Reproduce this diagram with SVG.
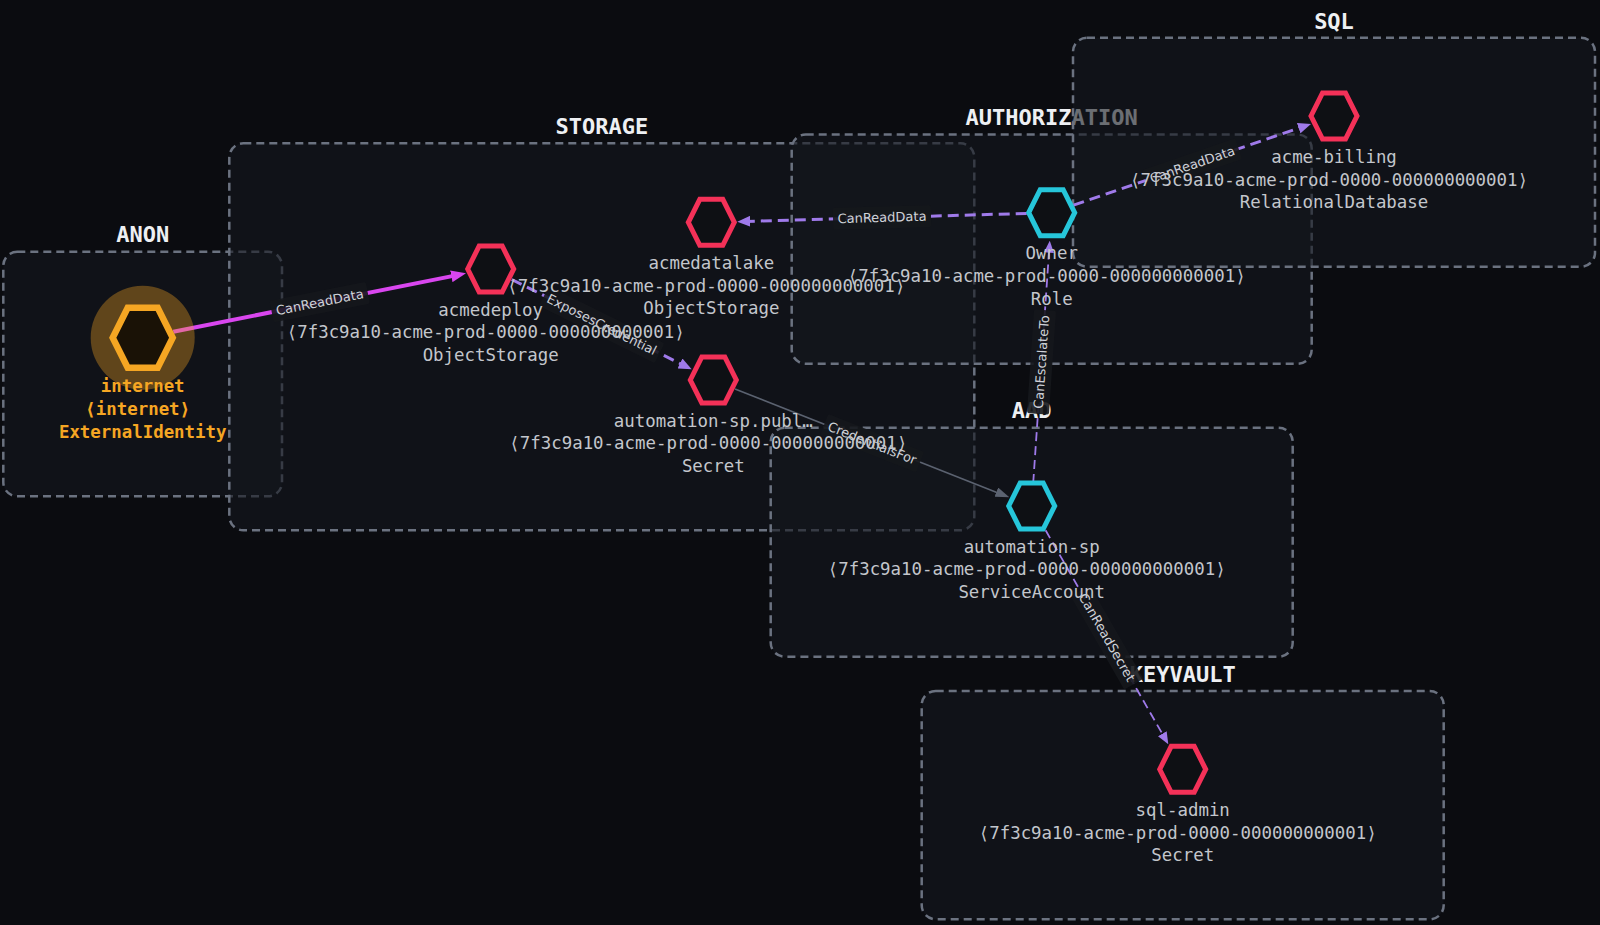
<svg xmlns="http://www.w3.org/2000/svg" width="1600" height="925" viewBox="0 0 1600 925">
<style>
.grp rect{fill:#14171e;fill-opacity:0.6;stroke:#6b7280;stroke-width:2.5;stroke-dasharray:8 5}
.gt{font-family:"DejaVu Sans Mono","Liberation Mono",monospace;font-weight:bold;font-size:22px;fill:#eef0f3;text-anchor:middle}
.hex{fill:#0e1014;stroke-width:5;stroke-linejoin:miter}
.red{stroke:#f43158}
.cyan{stroke:#26c6da}
.nl{font-family:"DejaVu Sans Mono","Liberation Mono",monospace;font-size:17.4px;fill:#c3c6cc;text-anchor:middle}
.nl.hi{fill:#f5a623;font-weight:bold}
.e{fill:none}
.mag{stroke:#d946ef;stroke-width:4}
.pur{stroke:#9f7aea;stroke-width:3;stroke-dasharray:11 6}
.purt{stroke:#9f7aea;stroke-width:1.8;stroke-dasharray:9 5}
.gry{stroke:#5b6270;stroke-width:1.6}
.lb rect{fill:#15171c;fill-opacity:0.9}
.lb text{font-family:"DejaVu Sans","Liberation Sans",sans-serif;font-size:13px;fill:#cfd2d8;text-anchor:middle;dominant-baseline:central}
</style>
<defs>
<marker id="am" markerUnits="userSpaceOnUse" viewBox="0 0 15 12" markerWidth="15" markerHeight="12" refX="6" refY="6" orient="auto"><path d="M0,0 L15,6 L0,12 z" fill="#d946ef"/></marker>
<marker id="ap" markerUnits="userSpaceOnUse" viewBox="0 0 13 11" markerWidth="13" markerHeight="11" refX="5" refY="5.5" orient="auto"><path d="M0,0 L13,5.5 L0,11 z" fill="#9f7aea"/></marker>
<marker id="apt" markerUnits="userSpaceOnUse" viewBox="0 0 12 10" markerWidth="12" markerHeight="10" refX="5" refY="5" orient="auto"><path d="M0,0 L12,5 L0,10 z" fill="#9f7aea"/></marker>
<marker id="ag" markerUnits="userSpaceOnUse" viewBox="0 0 14 10" markerWidth="14" markerHeight="10" refX="6" refY="5" orient="auto"><path d="M0,0 L14,5 L0,10 z" fill="#5b6270"/></marker>
</defs>
<rect x="0" y="0" width="1600" height="925" fill="#0b0c10"/>

<g id="groups">
<g id="group-anon" class="grp"><rect x="3.3" y="251.7" width="278.7" height="244.6" rx="14"/><text class="gt" x="142.7" y="242">ANON</text></g>
<g id="group-storage" class="grp"><rect x="229.3" y="143.3" width="745" height="387" rx="14"/><text class="gt" x="601.8" y="134">STORAGE</text></g>
<g id="group-authorization" class="grp"><rect x="791.7" y="134.5" width="520" height="229.3" rx="14"/><text class="gt" x="1051.7" y="125">AUTHORIZATION</text></g>
<g id="group-sql" class="grp"><rect x="1073" y="37.7" width="522" height="229" rx="14"/><text class="gt" x="1334" y="28.5">SQL</text></g>
<g id="group-aad" class="grp"><rect x="770.7" y="427.7" width="522" height="229" rx="14"/><text class="gt" x="1031.7" y="418.4">AAD</text></g>
<g id="group-keyvault" class="grp"><rect x="921.7" y="691" width="522" height="228.3" rx="14"/><text class="gt" x="1182.7" y="681.7">KEYVAULT</text></g>
</g>

<g id="connectors">
<path class="e mag" d="M173.3,331.7 L457.2,275.1" marker-end="url(#am)"/>
<path class="e pur" d="M511.7,279.5 L684.5,365.7" marker-end="url(#ap)"/>
<path class="e gry" d="M735,389 L1001.9,494.4" marker-end="url(#ag)"/>
<path class="e purt" d="M1033.2,483 L1049.3,247.7" marker-end="url(#apt)"/>
<path class="e pur" d="M1026.7,213.4 L745.3,221.4" marker-end="url(#ap)"/>
<path class="e pur" d="M1073.5,205.2 L1303.4,126.5" marker-end="url(#ap)"/>
<path class="e purt" d="M1045.6,530.3 L1164.8,738.1" marker-end="url(#apt)"/>
<g class="lb" transform="translate(319.7,302.2) rotate(-11.17)"><rect x="-49" y="-11" width="98" height="22" rx="2"/><text>CanReadData</text></g>
<g class="lb" transform="translate(601.7,324.6) rotate(26.38)"><rect x="-64.5" y="-11" width="129" height="22" rx="2"/><text>ExposesCredential</text></g>
<g class="lb" transform="translate(872.2,443.2) rotate(21.59)"><rect x="-51.5" y="-11" width="103" height="22" rx="2"/><text>CredentialsFor</text></g>
<g class="lb" transform="translate(1041.5,361.9) rotate(-86.1)"><rect x="-52" y="-11" width="104" height="22" rx="2"/><text>CanEscalateTo</text></g>
<g class="lb" transform="translate(882,217.5) rotate(-1.62)"><rect x="-49" y="-11" width="98" height="22" rx="2"/><text>CanReadData</text></g>
<g class="lb" transform="translate(1192.3,164.6) rotate(-18.9)"><rect x="-49" y="-11" width="98" height="22" rx="2"/><text>CanReadData</text></g>
<g class="lb" transform="translate(1107,637.3) rotate(60.17)"><rect x="-54" y="-11" width="108" height="22" rx="2"/><text>CanReadSecret</text></g>
</g>

<g id="node-internet" transform="translate(142.7,337.7)">
<circle r="52" fill="#f5a623" fill-opacity="0.35"/>
<polygon points="-30,0 -15,-30 15,-30 30,0 15,30 -15,30" fill="#1a1206" stroke="#f5a623" stroke-width="6.5"/>
<text class="nl hi" y="54"><tspan x="0">internet</tspan><tspan x="-5" dy="23">⟨internet⟩</tspan><tspan x="0" dy="23">ExternalIdentity</tspan></text>
</g>
<g id="node-acmedeploy" transform="translate(490.7,269)">
<polygon class="hex red" points="-23,0 -11.5,-23 11.5,-23 23,0 11.5,23 -11.5,23"/>
<text class="nl" y="46.7"><tspan x="0">acmedeploy</tspan><tspan x="-5" dy="22.6">⟨7f3c9a10-acme-prod-0000-000000000001⟩</tspan><tspan x="0" dy="22.6">ObjectStorage</tspan></text>
</g>
<g id="node-acmedatalake" transform="translate(711.3,222.3)">
<polygon class="hex red" points="-23,0 -11.5,-23 11.5,-23 23,0 11.5,23 -11.5,23"/>
<text class="nl" y="46.7"><tspan x="0">acmedatalake</tspan><tspan x="-5" dy="22.6">⟨7f3c9a10-acme-prod-0000-000000000001⟩</tspan><tspan x="0" dy="22.6">ObjectStorage</tspan></text>
</g>
<g id="node-automation-sp-secret" transform="translate(713.3,380)">
<polygon class="hex red" points="-23,0 -11.5,-23 11.5,-23 23,0 11.5,23 -11.5,23"/>
<text class="nl" y="46.7"><tspan x="0">automation-sp.publ…</tspan><tspan x="-5" dy="22.6">⟨7f3c9a10-acme-prod-0000-000000000001⟩</tspan><tspan x="0" dy="22.6">Secret</tspan></text>
</g>
<g id="node-owner" transform="translate(1051.7,212.7)">
<polygon class="hex cyan" points="-23,0 -11.5,-23 11.5,-23 23,0 11.5,23 -11.5,23"/>
<text class="nl" y="46.7"><tspan x="0">Owner</tspan><tspan x="-5" dy="22.6">⟨7f3c9a10-acme-prod-0000-000000000001⟩</tspan><tspan x="0" dy="22.6">Role</tspan></text>
</g>
<g id="node-acme-billing" transform="translate(1334,116)">
<polygon class="hex red" points="-23,0 -11.5,-23 11.5,-23 23,0 11.5,23 -11.5,23"/>
<text class="nl" y="47"><tspan x="0">acme-billing</tspan><tspan x="-5" dy="22.6">⟨7f3c9a10-acme-prod-0000-000000000001⟩</tspan><tspan x="0" dy="22.6">RelationalDatabase</tspan></text>
</g>
<g id="node-automation-sp" transform="translate(1031.7,506)">
<polygon class="hex cyan" points="-23,0 -11.5,-23 11.5,-23 23,0 11.5,23 -11.5,23"/>
<text class="nl" y="46.7"><tspan x="0">automation-sp</tspan><tspan x="-5" dy="22.6">⟨7f3c9a10-acme-prod-0000-000000000001⟩</tspan><tspan x="0" dy="22.6">ServiceAccount</tspan></text>
</g>
<g id="node-sql-admin" transform="translate(1182.7,769.3)">
<polygon class="hex red" points="-23,0 -11.5,-23 11.5,-23 23,0 11.5,23 -11.5,23"/>
<text class="nl" y="46.7"><tspan x="0">sql-admin</tspan><tspan x="-5" dy="22.6">⟨7f3c9a10-acme-prod-0000-000000000001⟩</tspan><tspan x="0" dy="22.6">Secret</tspan></text>
</g>
</svg>
